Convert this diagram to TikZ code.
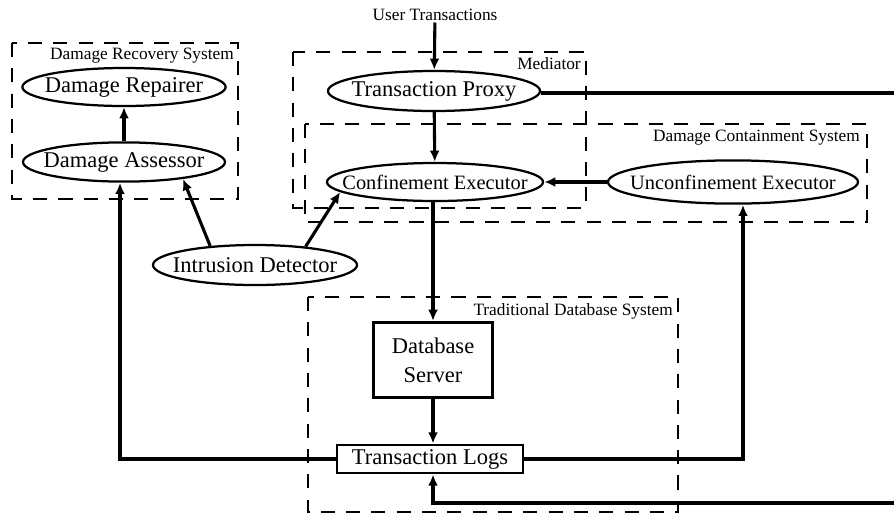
\documentclass[tikz,border=0pt]{standalone}
\usepackage{fontspec}
\setmainfont{Liberation Serif}
\usetikzlibrary{shapes.geometric,arrows.meta}
\tikzset{
  proc/.style={ellipse, draw, line width=1.6pt, inner sep=0pt, font=\fontsize{16}{18}\selectfont},
  store/.style={rectangle, draw, line width=2pt, inner sep=0pt, align=center, font=\fontsize{16}{20.5}\selectfont},
  zone/.style={line width=1.8pt, dash pattern=on 10pt off 8pt},
  zonelabel/.style={anchor=east, inner sep=0pt, font=\fontsize{12.3}{14}\selectfont},
  flow/.style={line width=2.2pt, -{Latex[length=8pt,width=7pt]}},
  wire/.style={line width=2.2pt}
}
\newcommand{\nowidth}[1]{\makebox[0pt]{#1}}
\begin{document}
\begin{tikzpicture}[x=0.025cm,y=-0.025cm]
  \useasboundingbox (0,0) rectangle (894,515);
  \clip (0,0) rectangle (894,515);
  \fill[white] (0,0) rectangle (894,515);
  \draw[zone] (12,43) rectangle (238,199);
  \draw[zone] (293,52) rectangle (586,208);
  \draw[zone] (305,124) rectangle (867,222);
  \draw[zone] (308,297) rectangle (678,512);
  \node[zonelabel] (drs) at (234,56) {Damage Recovery System};
  \node[zonelabel] (med) at (581,64) {Mediator};
  \node[zonelabel] (dcs) at (860,138) {Damage Containment System};
  \node[zonelabel] (tds) at (673,311) {Traditional Database System};
  \node[font=\fontsize{12.3}{14}\selectfont, inner sep=1pt] (ut) at (435,15) {User Transactions};
  \node[proc, minimum width=5.08cm, minimum height=0.95cm] (dr) at (124,87) {\nowidth{Damage Repairer}};
  \node[proc, minimum width=5.05cm, minimum height=0.98cm] (da) at (124,162) {\nowidth{Damage Assessor}};
  \node[proc, minimum width=5.3cm, minimum height=1cm] (tp) at (434,91) {\nowidth{Transaction Proxy}};
  \node[proc, minimum width=5.4cm, minimum height=0.95cm, font=\fontsize{14.5}{16}\selectfont] (ce) at (435,182) {\nowidth{Confinement Executor}};
  \node[proc, minimum width=6.25cm, minimum height=1.08cm, font=\fontsize{14.5}{16}\selectfont] (ue) at (733,182) {\nowidth{Unconfinement Executor}};
  \node[proc, minimum width=5.1cm, minimum height=1cm] (id) at (255,265) {\nowidth{Intrusion Detector}};
  \node[store, minimum width=2.98cm, minimum height=1.88cm] (ds) at (433,360) {Database\\Server};
  \node[store, minimum width=4.65cm, minimum height=0.7cm] (tl) at (430,459) {Transaction Logs};
  \coordinate (outtop) at (910,93);
  \coordinate (outbot) at (910,503);
  \draw[flow] (ut) -- (tp);
  \draw[flow] (da) -- (dr);
  \draw[flow] (tp) -- (ce);
  \draw[flow] (ue) -- (ce);
  \draw[flow] (ce.south -| ds.north) -- (ds);
  \draw[flow] (ds) -- (tl.north -| ds.south);
  \draw[flow] (id.157) -- (da.344);
  \draw[flow] (id.20) -- (ce.186);
  \draw[flow] (tl.west) -| ([xshift=-0.1cm]da.south);
  \draw[flow] (tl.east) -| ([xshift=0.25cm]ue.south);
  \draw[wire] (tp.east |- outtop) -- (outtop);
  \draw[flow] (outbot) -| (tl.south -| ds.south);
\end{tikzpicture}
\end{document}
